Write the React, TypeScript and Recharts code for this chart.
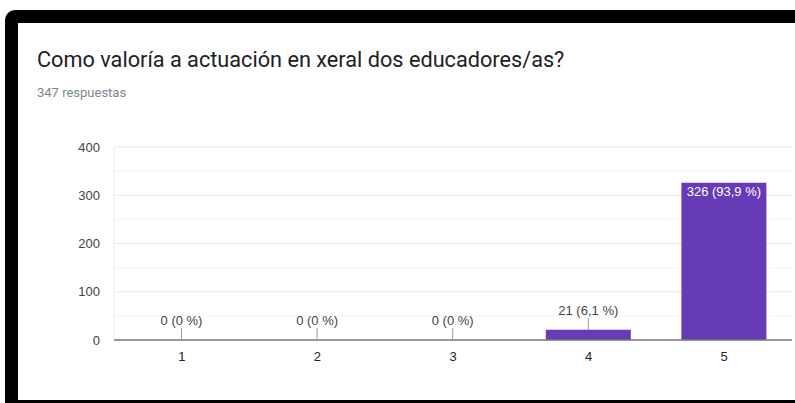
import { BarChart, Bar, XAxis, YAxis, CartesianGrid, LabelList } from "recharts"

const categories = ["1", "2", "3", "4", "5"]
const counts = [0, 0, 0, 21, 326]
const percents = ["0 %", "0 %", "0 %", "6,1 %", "93,9 %"]
const yTicks = [0, 50, 100, 150, 200, 250, 300, 350, 400]
const majorLines = [100, 200, 300, 400]
const minorLines = [50, 150, 250, 350]

const data = categories.map((c, i) => ({
  name: c,
  value: counts[i],
  label: `${counts[i]} (${percents[i]})`,
}))

const font = "Roboto, Arial, sans-serif"
const chartFont = "Arial, 'Liberation Sans', sans-serif"

function BarLabel(props: any) {
  const { x, y, width, height, value } = props
  const cx = Number(x) + Number(width) / 2
  const top = Number(y)
  if (Number(height) > 30) {
    return (
      <text x={cx} y={top + 13} textAnchor="middle" fill="#ffffff" fontSize={13} fontFamily={chartFont}>
        {value}
      </text>
    )
  }
  return (
    <g>
      <line x1={cx} x2={cx} y1={top} y2={top - 12} stroke="#999" strokeWidth={1} />
      <text x={cx} y={top - 15} textAnchor="middle" fill="#444" fontSize={13} fontFamily={chartFont}>
        {value}
      </text>
    </g>
  )
}

export default function App() {
  return (
    <div style={{ position: "absolute", left: 0, top: 0, width: 795, height: 403, background: "#fff", overflow: "hidden" }}>
      <div style={{ position: "absolute", left: 5, top: 10, width: 800, height: 400, background: "#000", borderTopLeftRadius: 10 }} />
      <div style={{ position: "absolute", left: 18, top: 23, width: 790, height: 377, background: "#fff" }} />
      <div style={{ position: "absolute", left: 37, top: 47, fontFamily: font, fontSize: 21.7, lineHeight: "26px", color: "#202124", whiteSpace: "nowrap" }}>
        Como valoría a actuación en xeral dos educadores/as?
      </div>
      <div style={{ position: "absolute", left: 37, top: 85, fontFamily: font, fontSize: 13, lineHeight: "16px", color: "#80868b" }}>
        347 respuestas
      </div>
      <div style={{ position: "absolute", left: 0, top: 0 }}>
        <BarChart width={795} height={403} data={data} margin={{ top: 147, right: 3, bottom: 33, left: 54 }}>
          <CartesianGrid vertical={false} horizontalValues={minorLines} stroke="#f4f4f4" />
          <CartesianGrid vertical={false} horizontalValues={majorLines} stroke="#e8e8e8" />
          <YAxis
            domain={[0, 400]}
            ticks={yTicks}
            interval={0}
            width={60}
            tickSize={0}
            tickMargin={14}
            axisLine={{ stroke: "#eeeeee" }}
            tickFormatter={(v: number) => (v % 100 === 0 ? String(v) : "")}
            tick={{ fill: "#444", fontSize: 13, fontFamily: chartFont }}
          />
          <YAxis yAxisId="right" orientation="right" width={0} tick={false} axisLine={{ stroke: "#eeeeee" }} domain={[0, 400]} />
          <XAxis
            dataKey="name"
            height={30}
            tickLine={false}
            tickMargin={6}
            axisLine={{ stroke: "#777", strokeWidth: 1.5 }}
            tick={{ fill: "#222", fontSize: 13, fontFamily: chartFont }}
          />
          <Bar dataKey="value" fill="#673ab7" barSize={85} minPointSize={0.01} isAnimationActive={false}>
            <LabelList dataKey="label" content={<BarLabel />} />
          </Bar>
        </BarChart>
      </div>
    </div>
  )
}
